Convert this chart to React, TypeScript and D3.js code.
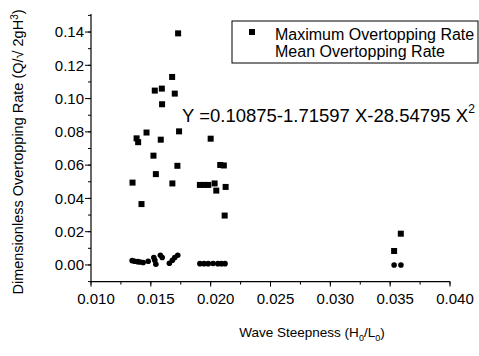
import React from "react";
import * as d3 from "d3";

const maxX = [0.01347, 0.01381, 0.01394, 0.01422, 0.01464, 0.01522, 0.01533, 0.01542, 0.01583, 0.01592, 0.01594, 0.0168, 0.01678, 0.017, 0.01722, 0.01728, 0.01736, 0.0191, 0.01944, 0.0198, 0.02, 0.02033, 0.02047, 0.0208, 0.0211, 0.02117, 0.02125, 0.03533, 0.03589];
const maxY = [0.0495, 0.0761, 0.0738, 0.0366, 0.0796, 0.0657, 0.1048, 0.0546, 0.0753, 0.106, 0.0966, 0.049, 0.113, 0.103, 0.0596, 0.1392, 0.0803, 0.0481, 0.0481, 0.0481, 0.0759, 0.049, 0.0447, 0.0601, 0.0598, 0.0297, 0.0469, 0.0084, 0.0188];

const meanX = [0.01344, 0.01365, 0.0139, 0.0141, 0.01436, 0.01478, 0.01525, 0.01533, 0.01542, 0.0158, 0.01595, 0.01655, 0.0168, 0.017, 0.01725, 0.0191, 0.01945, 0.0198, 0.0202, 0.0206, 0.0209, 0.0212, 0.03533, 0.0359];
const meanY = [0.0026, 0.0022, 0.002, 0.0018, 0.0015, 0.0022, 0.0045, 0.0028, 0.0004, 0.0058, 0.0045, 0.001, 0.0028, 0.0045, 0.0058, 0.0008, 0.0008, 0.0008, 0.0009, 0.0008, 0.0008, 0.0008, 0.0, 0.0];

const xTicks = [0.01, 0.015, 0.02, 0.025, 0.03, 0.035, 0.04];
const yTicks = [0, 0.02, 0.04, 0.06, 0.08, 0.1, 0.12, 0.14];
const legendLabels = ["Maximum Overtopping Rate", "Mean Overtopping Rate"];
const equation = "Y =0.10875-1.71597 X-28.54795 X";

const FONT = "'Liberation Sans', Arial, sans-serif";

export default function App() {
  const x = d3.scaleLinear().domain([0.01, 0.04]).range([91, 450]);
  const y = d3.scaleLinear().domain([-0.01, 0.15]).range([281.6, 15.4]);
  const yMinor = d3.range(-0.01, 0.151, 0.01);
  const xMinor = d3.range(0.01, 0.0401, 0.0025);
  const y0 = y(-0.01);
  const x0 = x(0.01);
  return (
    <svg width={479} height={356} style={{ position: "absolute", left: 0, top: 0, background: "#fff" }} fontFamily={FONT}>
      {/* axes */}
      <line x1={x0} x2={x0} y1={14} y2={y0} stroke="#000" strokeWidth={1.2} />
      <line x1={x0} x2={x(0.04)} y1={y0} y2={y0} stroke="#000" strokeWidth={1.2} />
      {yMinor.map((v, i) => (
        <line key={"ym" + i} x1={x0 - 3} x2={x0} y1={y(v)} y2={y(v)} stroke="#000" />
      ))}
      {yTicks.map((v, i) => (
        <g key={"yt" + i}>
          <line x1={x0 - 6} x2={x0} y1={y(v)} y2={y(v)} stroke="#000" />
          <text x={x0 - 7} y={y(v)} dy="0.35em" textAnchor="end" fontSize={15}>{v.toFixed(2)}</text>
        </g>
      ))}
      {xMinor.map((v, i) => (
        <line key={"xm" + i} x1={x(v)} x2={x(v)} y1={y0} y2={y0 + 3} stroke="#000" />
      ))}
      {xTicks.map((v, i) => (
        <g key={"xt" + i}>
          <line x1={x(v)} x2={x(v)} y1={y0} y2={y0 + 5} stroke="#000" />
          <text x={x(v) + 5} y={y0 + 22} textAnchor="middle" fontSize={15}>{v.toFixed(3)}</text>
        </g>
      ))}
      {/* axis titles */}
      <text x={312} y={337} textAnchor="middle" fontSize={13.5}>
        Wave Steepness (H<tspan fontSize={9} dy={4}>0</tspan><tspan dy={-4}>/L</tspan><tspan fontSize={9} dy={4}>0</tspan><tspan dy={-4}>)</tspan>
      </text>
      <text transform="translate(23,152) rotate(-90)" textAnchor="middle" fontSize={14.5}>
        Dimensionless Overtopping Rate (Q/√ 2gH<tspan fontSize={10} dy={-5}>3</tspan><tspan dy={5}>)</tspan>
      </text>
      {/* data */}
      {maxX.map((v, i) => (
        <rect key={"mx" + i} x={x(v) - 3} y={y(maxY[i]) - 3} width={6} height={6} fill="#000" />
      ))}
      {meanX.map((v, i) => (
        <circle key={"mn" + i} cx={x(v)} cy={y(meanY[i])} r={2.8} fill="#000" />
      ))}
      {/* legend */}
      <rect x={232} y={21} width={246} height={42} fill="#fff" stroke="#000" strokeWidth={1} />
      <rect x={249} y={29} width={6} height={6} fill="#000" />
      <text x={275} y={40} fontSize={16}>{legendLabels[0]}</text>
      <text x={275} y={57} fontSize={16}>{legendLabels[1]}</text>
      {/* equation */}
      <text x={182} y={122} fontSize={18.5}>
        {equation}<tspan fontSize={12} dy={-9}>2</tspan>
      </text>
    </svg>
  );
}
